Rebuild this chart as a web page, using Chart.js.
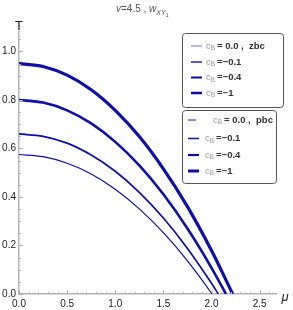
<!DOCTYPE html>
<html>
<head>
<meta charset="utf-8">
<script src="https://cdn.jsdelivr.net/npm/chart.js@4/dist/chart.umd.min.js"></script>
<style>
  html,body{margin:0;padding:0;background:#fff;}
  #wrap{width:293px;height:310px;}
</style>
</head>
<body>
<div id="wrap"><canvas id="c" width="293" height="310"></canvas></div>
<script>
// ===== data =====
const xTicks = [0, 0.5, 1.0, 1.5, 2.0, 2.5];
const yTicks = [0, 0.2, 0.4, 0.6, 0.8, 1.0];

// c_B = -1 (thickest)
const muA = [0, 0.25, 0.5, 0.75, 1.0, 1.25, 1.5, 1.75, 2.0, 2.22];
const tA  = [0.950, 0.938, 0.902, 0.842, 0.757, 0.649, 0.516, 0.360, 0.179, 0];
// c_B = -0.4
const muB = [0, 0.25, 0.5, 0.75, 1.0, 1.25, 1.5, 1.75, 2.0, 2.15];
const tB  = [0.800, 0.789, 0.757, 0.703, 0.627, 0.530, 0.411, 0.270, 0.108, 0];
// c_B = -0.1
const muC = [0, 0.25, 0.5, 0.75, 1.0, 1.25, 1.5, 1.75, 2.0, 2.07];
const tC  = [0.660, 0.650, 0.622, 0.573, 0.506, 0.419, 0.313, 0.188, 0.044, 0];
// c_B = 0.0
const muD = [0, 0.25, 0.5, 0.75, 1.0, 1.25, 1.5, 1.75, 2.0, 2.005];
const tD  = [0.575, 0.566, 0.539, 0.495, 0.432, 0.351, 0.253, 0.137, 0.003, 0];

const legendZbc = ["= 0.0 ,  zbc", "=\u22120.1", "=\u22120.4", "=\u22121"];
const legendPbc = ["= 0.0 ,  pbc", "=\u22120.1", "=\u22120.4", "=\u22121"];

const BLUE = "rgb(14,14,170)";
const AXIS = "#b4b4b4";
const FONT = "'Liberation Sans', Arial, sans-serif";

function pts(xs, ys){ return xs.map((x,i)=>({x, y:ys[i]})); }

function ds(xs, ys, w){
  return { data: pts(xs, ys), borderColor: BLUE, borderWidth: w, pointRadius: 0,
           fill:false, cubicInterpolationMode:"monotone" };
}

// ===== extra drawing: ticks, labels, legends =====
function drawMinorTicks(ctx, chart){
  const xs = chart.scales.x, ys = chart.scales.y;
  const a = chart.chartArea;
  ctx.save();
  ctx.strokeStyle = AXIS;
  ctx.lineWidth = 1;
  for(let i=0;i<=26;i++){
    const v = i/10;
    const px = Math.round(xs.getPixelForValue(v))+0.5;
    const len = (i%5===0) ? 4 : 2;
    ctx.beginPath(); ctx.moveTo(px, a.bottom); ctx.lineTo(px, a.bottom-len); ctx.stroke();
  }
  for(let i=0;i<=21;i++){
    const v = i/20;
    const py = Math.round(ys.getPixelForValue(v))+0.5;
    const len = (i%4===0) ? 4 : 2;
    ctx.beginPath(); ctx.moveTo(a.left, py); ctx.lineTo(a.left+len, py); ctx.stroke();
  }
  ctx.restore();
}

function roundRect(ctx, x, y, w, h, r){
  ctx.beginPath();
  ctx.moveTo(x+r, y);
  ctx.lineTo(x+w-r, y); ctx.quadraticCurveTo(x+w, y, x+w, y+r);
  ctx.lineTo(x+w, y+h-r); ctx.quadraticCurveTo(x+w, y+h, x+w-r, y+h);
  ctx.lineTo(x+r, y+h); ctx.quadraticCurveTo(x, y+h, x, y+h-r);
  ctx.lineTo(x, y+r); ctx.quadraticCurveTo(x, y, x+r, y);
  ctx.closePath();
}

function legendEntry(ctx, x0, x1, tx, y, color, w, rest){
  ctx.strokeStyle = color; ctx.lineWidth = w;
  ctx.beginPath(); ctx.moveTo(x0, y); ctx.lineTo(x1, y); ctx.stroke();
  ctx.textBaseline = "middle";
  ctx.fillStyle = "#9a9a9a";
  ctx.font = "9.5px " + FONT;
  ctx.fillText("c", tx, y);
  let cx = tx + ctx.measureText("c").width;
  ctx.font = "6.5px " + FONT;
  ctx.fillText("B", cx, y+2.5);
  cx += ctx.measureText("B").width + 2;
  ctx.fillStyle = "#333";
  ctx.font = "bold 9.5px " + FONT;
  ctx.fillText(rest, cx, y);
}

const decor = {
  id: "decor",
  afterDraw(chart){
    const ctx = chart.ctx;
    drawMinorTicks(ctx, chart);
    ctx.save();
    // title
    ctx.fillStyle = "#555";
    ctx.textBaseline = "alphabetic";
    let x = 116, y = 12;
    ctx.font = "italic 10px " + FONT; ctx.fillText("v", x, y); x += ctx.measureText("v").width;
    ctx.font = "10px " + FONT; ctx.fillText("=4.5 , ", x, y); x += ctx.measureText("=4.5 , ").width;
    ctx.font = "italic 10px " + FONT; ctx.fillText("w", x, y); x += ctx.measureText("w").width;
    ctx.font = "italic 7px " + FONT; ctx.fillText("XY", x, y+2.5); x += ctx.measureText("XY").width;
    ctx.font = "5px " + FONT; ctx.fillText("1", x, y+4.5);
    // axis labels
    ctx.fillStyle = "#222";
    ctx.font = "13px " + FONT;
    ctx.textAlign = "center";
    ctx.fillText("T", 19, 30);
    ctx.font = "italic 13px " + FONT;
    ctx.fillText("\u03bc", 285, 301);
    ctx.textAlign = "left";

    // legend boxes
    ctx.strokeStyle = "#555"; ctx.lineWidth = 1;
    ctx.fillStyle = "#fff";
    roundRect(ctx, 182.5, 33.5, 101, 74, 3); ctx.fill(); ctx.stroke();
    roundRect(ctx, 182.5, 110.5, 94, 73, 3); ctx.fill(); ctx.stroke();

    const ys1 = [46, 62, 77.5, 93];
    const cols1 = ["rgb(110,110,225)", "rgb(30,30,190)", "rgb(10,10,170)", "rgb(10,10,160)"];
    const w1 = [1, 1.5, 2, 2.5];
    ys1.forEach((yy,i)=>legendEntry(ctx, 191, 202, 206, yy, cols1[i], w1[i], legendZbc[i]));

    const ys2 = [120, 138.5, 155, 171];
    const w2 = [1, 1.5, 2.2, 3];
    ys2.forEach((yy,i)=>legendEntry(ctx, 188, i===0?196:199, i===0?213:205, yy, BLUE, w2[i], legendPbc[i]));
    ctx.restore();
  }
};

new Chart(document.getElementById("c"), {
  type: "line",
  data: { datasets: [ ds(muD, tD, 1.2), ds(muC, tC, 1.7), ds(muB, tB, 2.6), ds(muA, tA, 3.2) ] },
  options: {
    responsive: false,
    animation: false,
    layout: { padding: { top: 32, right: 17, left: 0, bottom: 0 } },
    plugins: { legend: { display: false }, tooltip: { enabled: false } },
    scales: {
      x: {
        type: "linear", min: 0, max: 2.67,
        afterBuildTicks: s => { s.ticks = xTicks.map(v=>({value:v})); },
        afterFit: s => { s.height = 16; },
        grid: { display: false, drawTicks: false },
        border: { display: true, color: AXIS, width: 1.5 },
        ticks: { color: "#222", font: { size: 10, family: FONT }, padding: 4, maxRotation: 0,
                 callback: v => Number(v).toFixed(1) }
      },
      y: {
        type: "linear", min: 0, max: 1.08,
        afterBuildTicks: s => { s.ticks = yTicks.map(v=>({value:v})); },
        afterFit: s => { s.width = 19; },
        grid: { display: false, drawTicks: false },
        border: { display: true, color: AXIS, width: 1.5 },
        ticks: { color: "#222", font: { size: 10, family: FONT }, padding: 3,
                 callback: v => Number(v).toFixed(1) }
      }
    }
  },
  plugins: [decor]
});
</script>
</body>
</html>
